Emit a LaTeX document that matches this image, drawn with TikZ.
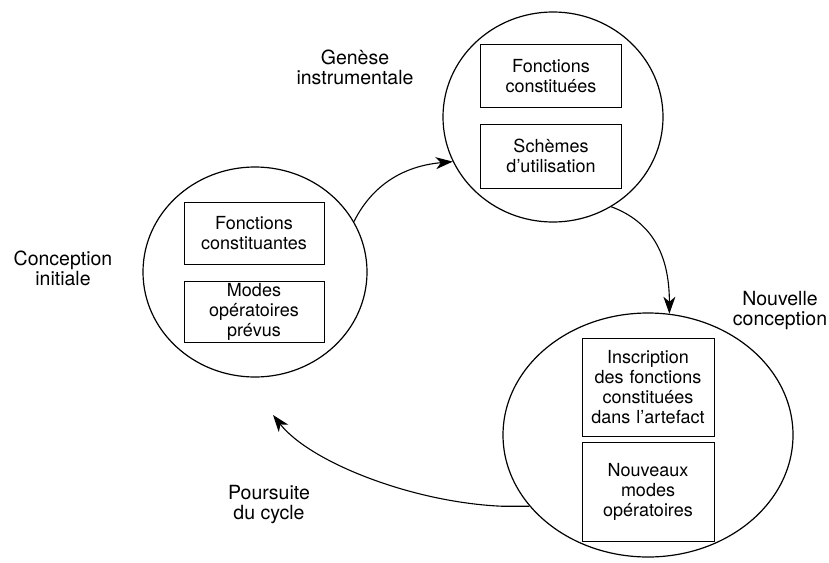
\documentclass[tikz,border=0pt]{standalone}
\usepackage{fontspec}
\setmainfont{TeX Gyre Heros}
\usepackage{tikz}
\usetikzlibrary{positioning,%
  shapes.geometric,%
  arrows.meta
}

\begin{document}
\begin{tikzpicture}
            [
                x=1pt, y=-1pt,
                font=\fontsize{18}{20}\selectfont,
                bulle/.style={ellipse,draw,line width=1.2pt,inner sep=0pt},
                cadre/.style={draw,line width=0.9pt,align=center,inner sep=2pt,text width=128pt},
                etiquette/.style={align=center,inner sep=0pt,font=\fontsize{19.5}{20}\selectfont},
                fleche/.style={line width=1.1pt,-{Stealth[length=17pt,width=12pt,inset=5pt]}}
            ]
            
            \useasboundingbox (0,0) rectangle (829,562);
            \clip (0,0) rectangle (829,562);
            
            \node[bulle,minimum width=224pt,minimum height=210pt] (initiale) at (255,272) {};
            \node[bulle,minimum width=220pt,minimum height=210pt] (genese) at (553,117) {};
            \node[bulle,minimum width=290pt,minimum height=244pt] (nouvelle) at (648,435) {};
            
            \node[cadre,minimum width=140pt,minimum height=62pt] (constituantes) at (254,233) {Fonctions\\constituantes};
            \node[cadre,minimum width=140pt,minimum height=61pt] (prevus) at (254,312) {Modes\\opératoires\\prévus};
            \node[cadre,minimum width=141pt,minimum height=63pt] (constituees) at (551,76) {Fonctions\\constituées};
            \node[cadre,minimum width=141pt,minimum height=64pt] (schemes) at (551,156) {Schèmes\\d’utilisation};
            \node[cadre,minimum width=132pt,minimum height=98pt] (inscription) at (648,387) {Inscription\\des fonctions\\constituées\\dans l’artefact};
            \node[cadre,minimum width=132pt,minimum height=99pt] (nouveaux) at (648,492) {Nouveaux\\modes\\opératoires};
            
            \node[etiquette] (txt-genese) at (355,67) {Genèse\\instrumentale};
            \node[etiquette] (txt-initiale) at (63,268) {Conception\\initiale};
            \node[etiquette] (txt-nouvelle) at (780,311) {Nouvelle\\conception};
            \node[etiquette] (txt-cycle) at (269,505) {Poursuite\\du cycle};
            
            \coordinate (retour) at (273,415);
            
            \draw[fleche] (initiale.27) .. controls +(20,-40) and +(-45,4) .. (genese.204);
            \draw[fleche] (genese.-57) .. controls +(40,15) and +(0,-60) .. (nouvelle.80);
            \draw[fleche] (nouvelle.211) -- ++(-28,0)
                .. controls +(-90,-4) and +(37,47) .. (retour);
        \end{tikzpicture}
\end{document}
